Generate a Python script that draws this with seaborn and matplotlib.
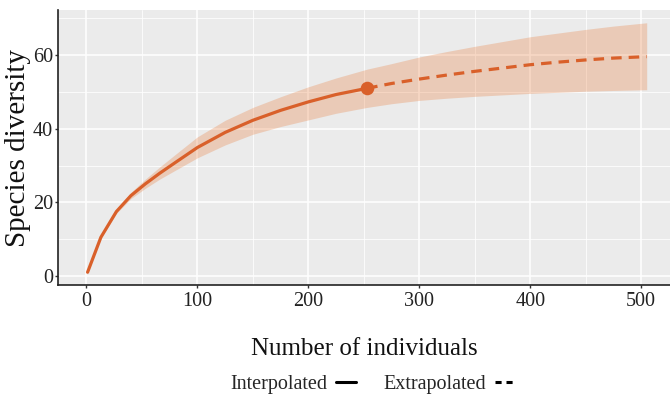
import pandas as pd
import matplotlib.pyplot as plt
import seaborn as sns
from matplotlib.lines import Line2D
from matplotlib.ticker import MultipleLocator

# Rarefaction / extrapolation curve
interp_m = [1, 13, 27, 40, 53, 66, 80, 100, 125, 150, 175, 200, 225, 253]
interp_qd = [1.0, 10.5, 17.5, 21.8, 25.0, 27.9, 30.8, 34.9, 39.0, 42.3, 45.0, 47.3, 49.3, 51.0]
interp_lo = [1.0, 10.3, 17.0, 21.0, 23.8, 26.3, 28.7, 32.1, 35.6, 38.5, 40.6, 42.4, 44.2, 45.8]
interp_hi = [1.0, 10.7, 18.0, 22.7, 26.3, 29.6, 33.0, 37.8, 42.3, 45.8, 48.7, 51.4, 53.8, 56.2]

extrap_m = [253, 275, 300, 325, 350, 375, 400, 425, 450, 475, 505]
extrap_qd = [51.0, 52.3, 53.5, 54.6, 55.6, 56.5, 57.4, 58.1, 58.7, 59.2, 59.6]
extrap_lo = [45.8, 46.8, 47.7, 48.3, 48.8, 49.2, 49.6, 49.9, 50.2, 50.4, 50.6]
extrap_hi = [56.2, 57.7, 59.5, 61.0, 62.4, 63.7, 65.0, 66.0, 67.0, 67.9, 68.8]

obs_m = [253]
obs_qd = [51.0]

color = '#D9602A'

interp = pd.DataFrame({'m': interp_m, 'qD': interp_qd, 'lo': interp_lo, 'hi': interp_hi})
extrap = pd.DataFrame({'m': extrap_m, 'qD': extrap_qd, 'lo': extrap_lo, 'hi': extrap_hi})
band = pd.concat([interp, extrap.iloc[1:]], ignore_index=True)

sns.set_theme(style='darkgrid', rc={'axes.facecolor': '#EBEBEB', 'grid.color': 'white'})
plt.rcParams['font.family'] = ['Liberation Serif', 'DejaVu Serif']

fig = plt.figure(figsize=(6.7, 3.96), dpi=100)
ax = fig.add_axes([0.087, 0.28, 0.913, 0.695])

ax.fill_between(band['m'], band['lo'], band['hi'], color='#E8732C', alpha=0.27, linewidth=0)
sns.lineplot(data=interp, x='m', y='qD', color=color, linewidth=2.3, ax=ax)
sns.lineplot(data=extrap, x='m', y='qD', color=color, linewidth=2.3, ax=ax,
             linestyle=(0, (3.3, 2.2)))
sns.scatterplot(x=obs_m, y=obs_qd, color=color, s=95, linewidth=0, ax=ax, zorder=5)

ax.set_xlim(-25.4, 526)
ax.set_ylim(-2.5, 72.3)
ax.xaxis.set_major_locator(MultipleLocator(100))
ax.xaxis.set_minor_locator(MultipleLocator(50))
ax.yaxis.set_major_locator(MultipleLocator(20))
ax.yaxis.set_minor_locator(MultipleLocator(10))
ax.grid(which='major', color='white', linewidth=1.1)
ax.grid(which='minor', color='white', linewidth=0.55)

for side in ['top', 'right']:
    ax.spines[side].set_visible(False)
for side in ['left', 'bottom']:
    ax.spines[side].set_visible(True)
    ax.spines[side].set_color('#222222')
    ax.spines[side].set_linewidth(1.2)

ax.tick_params(axis='both', which='major', length=2.3, width=1, color='#333333',
               labelsize=14.5, labelcolor='#222222', direction='out', bottom=True, left=True)
ax.tick_params(axis='y', which='major', pad=1.5)
ax.tick_params(axis='x', which='major', pad=3)
ax.tick_params(axis='both', which='minor', length=0)

ax.set_xlabel('Number of individuals', fontsize=18, color='#111111', labelpad=19)
ax.set_ylabel('Species diversity', fontsize=21, color='#111111')
ax.yaxis.set_label_coords(-0.045, 0.5)

handles = [Line2D([], [], color='black', linewidth=2.2),
           Line2D([], [], color='black', linewidth=2.2, linestyle=(0, (2.0, 1.6)))]
fig.legend(handles, ['Interpolated', 'Extrapolated'], loc='center', bbox_to_anchor=(0.556, 0.028),
           ncol=2, frameon=False, markerfirst=False, fontsize=14.5, handlelength=0.95,
           columnspacing=1.4, handletextpad=0.45)

fig.savefig('out.png', dpi=100)
